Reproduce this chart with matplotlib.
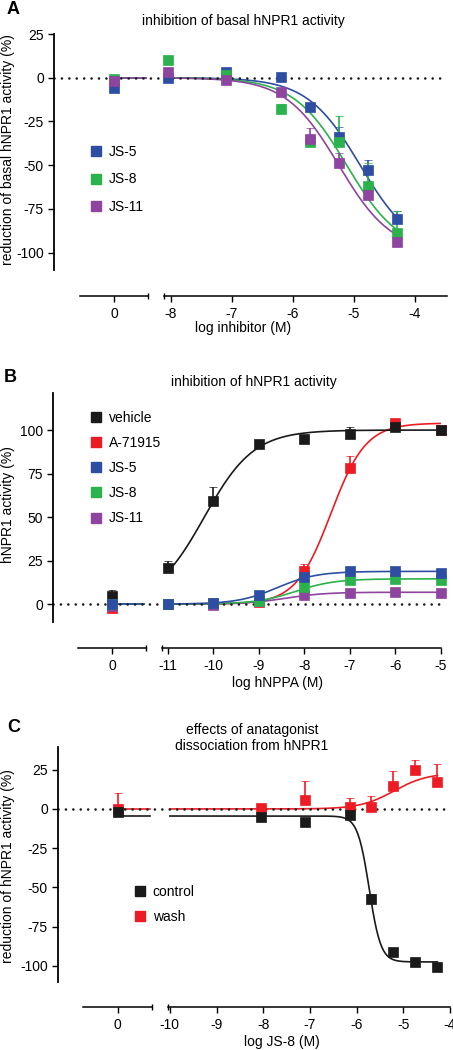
import numpy as np
import matplotlib
matplotlib.use("Agg")
import matplotlib.pyplot as plt
from matplotlib.lines import Line2D

plt.rcParams['font.family'] = ['Liberation Sans', 'DejaVu Sans']
plt.rcParams['axes.unicode_minus'] = False

W, H, DPI = 453, 1050, 100

BLACK = '#1a1a1a'
RED = '#ed1c24'
BLUE = '#2e4ea3'
GREEN = '#2bb24c'
PURPLE = '#8e45a0'

## Panel A data: inhibition of basal hNPR1 activity
a_logx = [-8.05, -7.1, -6.2, -5.72, -5.25, -4.77, -4.3]
a_names = ['JS-5', 'JS-8', 'JS-11']
a_colors = [BLUE, GREEN, PURPLE]
a_ctrl = [-6, -1, -2]
a_ctrl_err = [1, 1, 1]
a_js5 = [0, 3.5, 0.5, -17, -34, -53, -81]
a_js8 = [10, 1.5, -18, -37, -37, -62, -89]
a_js11 = [3.5, -1.5, -8, -35, -49, -67, -94]
a_js5_err = [1, 1, 1, 2, 6, 6, 5]
a_js8_err = [2, 1, 3, 2, 15, 13, 13]
a_js11_err = [2, 1, 1, 6, 6, 4, 3]
# fit params: left plateau, right plateau, logEC50, hill
a_fits = [(0, -100, -4.9, 1.0), (0, -100, -5.12, 1.0), (0, -100, -5.25, 1.0)]
a_fit_range = (-8.1, -4.3)

## Panel B data: inhibition of hNPR1 activity
b_logx = [-11, -10, -9, -8, -7, -6, -5]
b_names = ['vehicle', 'A-71915', 'JS-5', 'JS-8', 'JS-11']
b_colors = [BLACK, RED, BLUE, GREEN, PURPLE]
b_ctrl = [4.5, -2, 0, 0, -1]
b_ctrl_err = [3.5, 0, 0, 0, 0]
b_vehicle = [21, 59, 92, 95, 97.5, 102, 100]
b_a71915 = [0, 0, 1, 19, 78, 104, 100]
b_js5 = [0, 0.5, 5, 15.5, 19, 19, 18]
b_js8 = [0, 0.5, 2, 10, 14, 14.5, 14]
b_js11 = [0, -0.5, 1.5, 5, 6.5, 7, 6.5]
b_vehicle_err = [4, 8.5, 2, 1, 4, 1, 1]
b_a71915_err = [0, 0, 0, 4, 7, 2, 0]
b_js5_err = [0, 0, 1, 1, 2, 2, 2]
b_js8_err = [0, 0, 0, 1, 1, 1, 1]
b_js11_err = [0, 0, 0, 0, 0, 0, 0]
b_fits = [(0, 100, -10.2, 0.8), (0, 104, -7.42, 1.13), (0, 18.8, -8.6, 1.0),
          (0, 14.5, -8.2, 1.0), (0, 6.8, -8.4, 1.0)]
b_fit_range = (-11, -5)

## Panel C data: dissociation
c_logx = [-8.05, -7.1, -6.15, -5.7, -5.22, -4.75, -4.27]
c_names = ['control', 'wash']
c_colors = [BLACK, RED]
c_ctrl = [-2, 0]
c_ctrl_err = [3.5, 10]
c_control = [-5, -8.5, -4, -57.5, -91, -97.5, -101]
c_wash = [0.5, 5.5, 1, 1.5, 14.5, 25, 17.5]
c_control_err = [6, 0, 0, 3, 0, 0, 0]
c_wash_err = [0, 12.5, 6, 7, 10, 6, 11]
c_fits = [(-4.5, -97.5, -5.73, 3.5), (0, 23, -5.2, 1.2)]
c_fit_range = (-10, -4.27)


def fit_curve(p, x):
    left, right, logec, hill = p
    return left + (right - left) / (1 + 10 ** ((logec - x) * hill))


def px_rect(x0, x1, y0, y1):
    return [x0 / W, 1 - y1 / H, (x1 - x0) / W, (y1 - y0) / H]


def ftext(x, y, s, **kw):
    fig.text(x / W, 1 - y / H, s, **kw)


fig = plt.figure(figsize=(W / DPI, H / DPI), dpi=DPI)


def make_panel(yx, xr, top, bot, xaxis_y, segl, segr, xlim_r, ylim, yticks, xticks):
    ax = fig.add_axes(px_rect(yx, xr, top, bot))
    ax_r = fig.add_axes(px_rect(segr[0], segr[1], top, bot))
    ax_l = fig.add_axes(px_rect(segl[0], segl[1], top, bot))
    off = (xaxis_y - bot) * 72 / DPI
    for a in (ax_l, ax_r):
        a.patch.set_visible(False)
        for s in ('left', 'right', 'top'):
            a.spines[s].set_visible(False)
        a.spines['bottom'].set_position(('outward', off))
        a.spines['bottom'].set_linewidth(1.1)
        a.set_yticks([])
        a.tick_params(axis='x', which='major', direction='out', length=4.3, width=1.0,
                      labelsize=10, pad=3.5)
        a.tick_params(axis='x', which='minor', direction='inout', length=5, width=1.0)
    ax_r.set_xlim(*xlim_r)
    ax_r.set_xticks(xticks)
    ax_r.set_xticks([xlim_r[0]], minor=True)
    ax_l.set_xlim(-1, 1)
    ax_l.set_xticks([0])
    ax_l.set_xticks([1], minor=True)

    inv = ax_r.transData.inverted()
    ax.set_xlim(inv.transform((ax.bbox.x0, 0))[0], inv.transform((ax.bbox.x1, 0))[0])
    ax.set_ylim(*ylim)
    ax.set_yticks(yticks)
    ax.set_xticks([])
    ax.patch.set_visible(False)
    for s in ('right', 'top', 'bottom'):
        ax.spines[s].set_visible(False)
    ax.spines['left'].set_linewidth(1.3)
    ax.tick_params(axis='y', direction='out', length=4.3, width=1.0, labelsize=10, pad=3)
    ax.axhline(0, color=BLACK, lw=1.9, dashes=(0.01, 2.8), dash_capstyle='round', zorder=2.5)

    def seg_x(v):
        return inv.transform((ax_l.transData.transform((v, 0))[0], 0))[0]
    return ax, seg_x


def draw_series(ax, seg_x, logx, vals, errs, ctrl, ctrl_err, fit, frange, color):
    xs = np.linspace(frange[0], frange[1], 300)
    ax.plot(xs, fit_curve(fit, xs), color=color, lw=1.2, zorder=2)
    ax.plot([seg_x(0), seg_x(0.95)], [fit[0], fit[0]], color=color, lw=1.2, zorder=2)
    x_all = [seg_x(0)] + list(logx)
    y_all = [ctrl] + list(vals)
    e_all = [ctrl_err] + list(errs)
    ax.errorbar(x_all, y_all, yerr=[np.zeros(len(e_all)), e_all], fmt='s', ms=6.8,
                color=color, mec=color, mew=0.5, ecolor=color, elinewidth=1.2,
                capsize=3.2, capthick=1.2, zorder=4, clip_on=False)


def add_legend(ax, names, colors, x, y, spacing):
    handles = [Line2D([], [], marker='s', color=c, linestyle='none', markersize=7.6) for c in colors]
    ax.legend(handles, names, loc='upper left', bbox_to_anchor=(x / W, 1 - y / H),
              bbox_transform=fig.transFigure, frameon=False, fontsize=10, borderpad=0,
              borderaxespad=0, handlelength=0.8, handletextpad=0.55, labelspacing=spacing)


## Panel A
axA, segA = make_panel(54, 447, 34, 270, 296, (80, 148), (164, 447), (-8.115, -3.475),
                       (-110, 25), [-100, -75, -50, -25, 0, 25], [-8, -7, -6, -5, -4])
a_series = [(a_js5, a_js5_err), (a_js8, a_js8_err), (a_js11, a_js11_err)]
for i, (vals, errs) in enumerate(a_series):
    draw_series(axA, segA, a_logx, vals, errs, a_ctrl[i], a_ctrl_err[i], a_fits[i],
                a_fit_range, a_colors[i])
add_legend(axA, a_names, a_colors, 90, 145, 0.97)
ftext(13, 9, 'A', fontsize=13, fontweight='bold', ha='center', va='center')
ftext(243, 21, 'inhibition of basal hNPR1 activity', fontsize=10, ha='center', va='center')
ftext(8, 150, 'reduction of basal hNPR1 activity (%)', fontsize=10, rotation=90,
      ha='center', va='center')
ftext(243, 328, 'log inhibitor (M)', fontsize=10, ha='center', va='center')

## Panel B
axB, segB = make_panel(53, 441, 393, 622, 648, (78, 146), (162, 441), (-11.13, -5.0),
                       (-10.3, 121.3), [0, 25, 50, 75, 100], [-11, -10, -9, -8, -7, -6, -5])
b_series = [(b_vehicle, b_vehicle_err), (b_a71915, b_a71915_err), (b_js5, b_js5_err),
            (b_js8, b_js8_err), (b_js11, b_js11_err)]
for i in [1, 0, 4, 3, 2]:
    vals, errs = b_series[i]
    draw_series(axB, segB, b_logx, vals, errs, b_ctrl[i], b_ctrl_err[i], b_fits[i],
                b_fit_range, b_colors[i])
add_legend(axB, b_names, b_colors, 90, 411, 0.8)
ftext(10, 378, 'B', fontsize=13, fontweight='bold', ha='center', va='center')
ftext(254, 382, 'inhibition of hNPR1 activity', fontsize=10, ha='center', va='center')
ftext(8, 505, 'hNPR1 activity (%)', fontsize=10, rotation=90, ha='center', va='center')
ftext(278, 683, 'log hNPPA (M)', fontsize=10, ha='center', va='center')

## Panel C
axC, segC = make_panel(58, 450, 747, 982, 1007, (83, 152), (168, 450), (-10.04, -4.0),
                       (-110.3, 39.5), [-100, -75, -50, -25, 0, 25], [-10, -9, -8, -7, -6, -5, -4])
c_series = [(c_control, c_control_err), (c_wash, c_wash_err)]
for i in [1, 0]:
    vals, errs = c_series[i]
    draw_series(axC, segC, c_logx, vals, errs, c_ctrl[i], c_ctrl_err[i], c_fits[i],
                c_fit_range, c_colors[i])
add_legend(axC, c_names, c_colors, 134, 885, 0.79)
ftext(14, 728, 'C', fontsize=13, fontweight='bold', ha='center', va='center')
ftext(252, 738, 'effects of anatagonist\ndissociation from hNPR1', fontsize=10,
      ha='center', va='center', linespacing=1.15)
ftext(8, 866, 'reduction of hNPR1 activity (%)', fontsize=10, rotation=90,
      ha='center', va='center')
ftext(282, 1042, 'log JS-8 (M)', fontsize=10, ha='center', va='center')

plt.savefig('out.png', dpi=DPI)
